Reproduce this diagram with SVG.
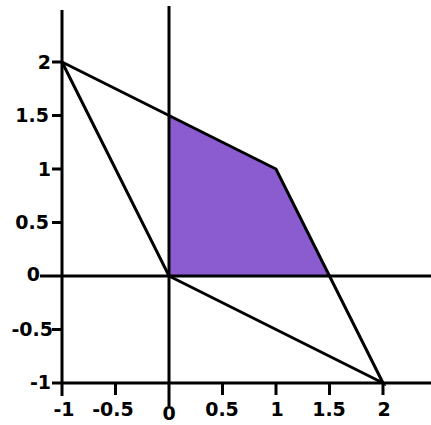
<svg xmlns="http://www.w3.org/2000/svg" width="431" height="425" viewBox="0 0 431 425">
<style>
.ln{stroke:#000;stroke-width:3;fill:none;stroke-linecap:butt}
.lb{font-family:"DejaVu Sans",sans-serif;font-weight:bold;font-size:19px;fill:#000}
.ye{text-anchor:end}
.xm{text-anchor:middle}
</style>
<rect width="431" height="425" fill="#fff"/>
<g id="region">
<polygon points="169,276 169,115.5 276,169 329.5,276" fill="#8A5CD0"/>
</g>
<g id="axes">
<line class="ln" x1="62" y1="10" x2="62" y2="396"/>
<line class="ln" x1="169" y1="6" x2="169" y2="406"/>
<line class="ln" x1="40" y1="276" x2="431" y2="276"/>
<line class="ln" x1="52" y1="383" x2="431" y2="383"/>
<path class="ln" d="M52,62H62M52,115.5H62M52,169H62M52,222.5H62M52,329.5H62"/>
<path class="ln" d="M115.5,383V395M222.5,383V395M276,383V395M329.5,383V395M383,383V395"/>
</g>
<g id="connectors">
<polyline class="ln" points="62,62 276,169 383,383 169,276 62,62" stroke-linejoin="miter"/>
</g>
<g id="labels">
<text class="lb ye" x="51" y="69">2</text>
<text class="lb ye" x="49" y="122">1.5</text>
<text class="lb ye" x="51" y="176">1</text>
<text class="lb ye" x="49" y="229">0.5</text>
<text class="lb ye" x="40" y="281">0</text>
<text class="lb ye" x="53" y="336">-0.5</text>
<text class="lb ye" x="51" y="389">-1</text>
<text class="lb xm" x="64" y="416">-1</text>
<text class="lb xm" x="113" y="416">-0.5</text>
<text class="lb xm" x="169" y="420">0</text>
<text class="lb xm" x="222" y="416">0.5</text>
<text class="lb xm" x="277" y="416">1</text>
<text class="lb xm" x="329" y="416">1.5</text>
<text class="lb xm" x="384" y="416">2</text>
</g>
</svg>
